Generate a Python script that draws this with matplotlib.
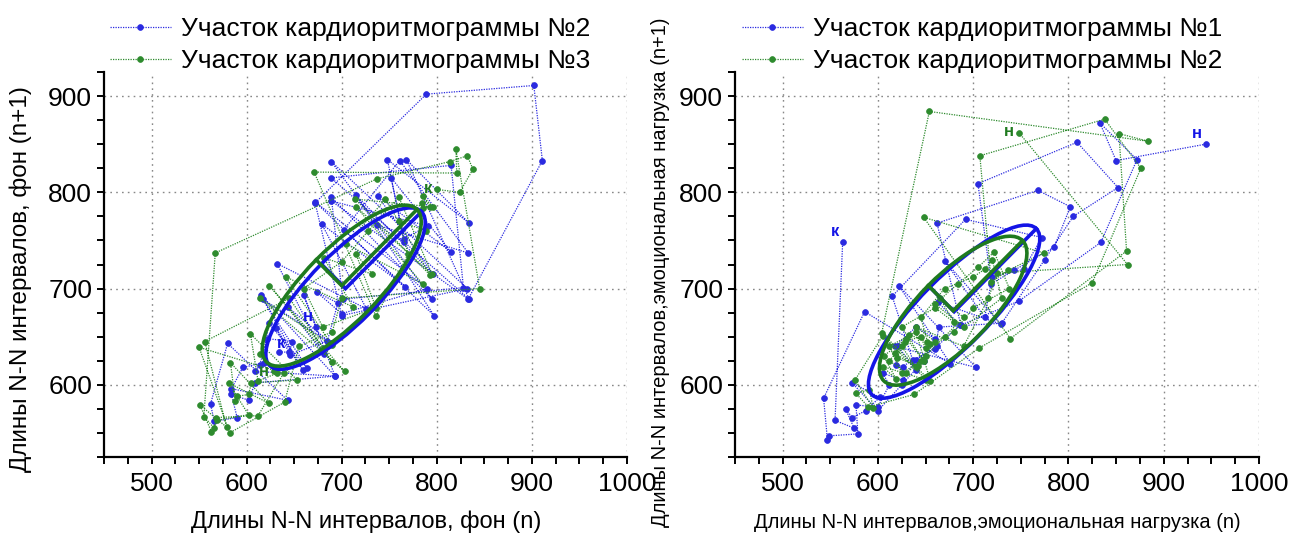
import numpy as np
import matplotlib
matplotlib.use("Agg")
import matplotlib.pyplot as plt
from matplotlib.patches import Ellipse
from matplotlib.ticker import MultipleLocator

plt.rcParams['font.family'] = ['Liberation Sans', 'DejaVu Sans']

# ---- data: successive N-N interval lengths (ms) ----
rr_bg2 = [673, 660, 693, 609, 602, 584, 590, 566, 562, 580, 643, 584, 596, 618, 623, 664,
          617, 689, 643, 681, 632, 726, 679, 767, 702, 761, 833, 737, 766, 748, 834, 768,
          834, 689, 815, 828, 701, 689, 795, 689, 832, 700, 672, 789, 902, 911, 833, 689,
          791, 765, 752, 815, 738, 796, 715, 797, 672, 790, 700, 674, 696, 685, 646, 631,
          659, 615, 693, 609, 614, 621, 648, 645, 634, 634]
rr_bg3 = [629, 614, 632, 612, 604, 653, 605, 602, 590, 588, 583, 623, 581, 602, 569, 563,
          551, 579, 556, 645, 690, 624, 703, 614, 690, 641, 712, 681, 732, 715, 736, 680,
          660, 700, 728, 760, 795, 715, 785, 705, 746, 793, 714, 793, 785, 796, 785, 784,
          789, 760, 770, 736, 671, 821, 820, 845, 700, 690, 655, 640, 582, 550, 639, 612,
          568, 566, 555, 567, 737, 814, 832, 838, 824, 800, 803]
rr_em1 = [944, 850, 833, 872, 834, 748, 687, 662, 768, 802, 785, 743, 719, 705, 809, 852,
          805, 775, 730, 664, 660, 637, 626, 619, 621, 640, 615, 692, 772, 753, 720, 712,
          670, 729, 663, 686, 662, 640, 626, 605, 612, 600, 577, 579, 549, 547, 543, 586,
          676, 622, 703, 618, 640, 660, 648, 625, 600, 573, 602, 587, 573, 566, 575, 555,
          563, 748]
rr_em2 = [748, 862, 725, 716, 690, 640, 660, 645, 625, 612, 640, 655, 604, 654, 884, 853,
          861, 739, 648, 774, 737, 719, 707, 838, 876, 825, 706, 638, 590, 577, 591, 595,
          576, 605, 651, 605, 619, 606, 630, 648, 625, 660, 680, 665, 690, 670, 650, 630,
          612, 625, 640, 618, 633, 652, 645, 670, 700, 712, 720, 730, 690, 660, 684, 705,
          722, 738, 700, 680, 655, 642, 620, 628, 645, 650, 638]

# ellipse parameters: centre x, centre y, SD1, SD2
ell_bg2 = (704, 700, 36, 113)
ell_bg3 = (700, 703, 38, 112)
ell_em1 = (680, 676, 36, 122)
ell_em2 = (679, 677, 37, 103)

legend_bg = ['Участок кардиоритмограммы №2', 'Участок кардиоритмограммы №3']
legend_em = ['Участок кардиоритмограммы №1', 'Участок кардиоритмограммы №2']
xlabel_bg = 'Длины N-N интервалов, фон (n)'
ylabel_bg = 'Длины N-N интервалов, фон (n+1)'
xlabel_em = 'Длины N-N интервалов,эмоциональная нагрузка (n)'
ylabel_em = 'Длины N-N интервалов,эмоциональная нагрузка (n+1)'
xticks = [500, 600, 700, 800, 900, 1000]
yticks = [600, 700, 800, 900]

BLUE_THIN = '#2a2ae0'
GREEN_THIN = '#2e8b2e'
BLUE = '#1414e6'
GREEN = '#1f7a1f'

W, H = 1292, 539
fig = plt.figure(figsize=(W / 100, H / 100), dpi=100)


def fx(px):
    return px / W


def fy(py):
    return 1 - py / H


def make_ax(left, right):
    ax = fig.add_axes([fx(left), fy(457), fx(right) - fx(left), fy(72) - fy(457)])
    ax.set_xlim(450, 1000)
    ax.set_ylim(525, 925)
    ax.spines['top'].set_visible(False)
    ax.spines['right'].set_visible(False)
    for s in ('left', 'bottom'):
        ax.spines[s].set_linewidth(1.6)
    ax.set_xticks(xticks)
    ax.set_yticks(yticks)
    ax.xaxis.set_minor_locator(MultipleLocator(25))
    ax.yaxis.set_minor_locator(MultipleLocator(25))
    ax.tick_params(which='both', direction='out', length=5, width=1.4, labelsize=19)
    ax.tick_params(axis='x', pad=6)
    ax.grid(True, which='major', linestyle=(0, (1.2, 3)), color='#888888', linewidth=1.0)
    ax.set_axisbelow(True)
    return ax


def draw_series(ax, rr, color, label):
    rr = np.asarray(rr)
    ax.plot(rr[:-1], rr[1:], linestyle=(0, (1, 1)), linewidth=0.9, color=color,
            marker='o', markersize=4.2, markeredgewidth=0.5, label=label, zorder=2)
    return rr


def draw_ellipse(ax, ell, color):
    cx, cy, sd1, sd2 = ell
    c = np.cos(np.pi / 4)
    ax.add_patch(Ellipse((cx, cy), 2 * sd2, 2 * sd1, angle=45, fill=False,
                         edgecolor=color, linewidth=2.6, zorder=4))
    ax.plot([cx - sd1 * c, cx, cx + sd2 * c], [cy + sd1 * c, cy, cy + sd2 * c],
            color=color, linewidth=2.6, zorder=4, solid_joinstyle='miter')


def mark(ax, rr, which, txt, color, dx, dy):
    rr = np.asarray(rr)
    if which == 'start':
        x, y = rr[0], rr[1]
    else:
        x, y = rr[-2], rr[-1]
    ax.annotate(txt, (x, y), xytext=(dx, dy), textcoords='offset pixels',
                ha='center', va='center', color=color, fontsize=12,
                fontweight='bold', zorder=5)


def add_legend(ax, left_px):
    ax.legend(loc='upper left', bbox_to_anchor=(fx(left_px), fy(17)),
              bbox_transform=fig.transFigure, frameon=False, fontsize=19,
              handlelength=2.3, handletextpad=0.4, labelspacing=0.3,
              borderaxespad=0, borderpad=0)


# ---- left panel ----
ax1 = make_ax(104, 627)
draw_series(ax1, rr_bg2, BLUE_THIN, legend_bg[0])
draw_series(ax1, rr_bg3, GREEN_THIN, legend_bg[1])
draw_ellipse(ax1, ell_bg2, BLUE)
draw_ellipse(ax1, ell_bg3, GREEN)
mark(ax1, rr_bg2, 'start', 'н', BLUE, -8, 11)
mark(ax1, rr_bg2, 'end', 'к', BLUE, 2, 9)
mark(ax1, rr_bg3, 'start', 'н', GREEN, -10, 0)
mark(ax1, rr_bg3, 'end', 'к', GREEN, -9, 1)
add_legend(ax1, 110)

fig.text(fx(366), fy(522), xlabel_bg, ha='center', va='center', fontsize=17)
fig.text(fx(21), fy(279), ylabel_bg, ha='center', va='center', fontsize=17.5,
         rotation=90)

# ---- right panel ----
ax2 = make_ax(735, 1259)
draw_series(ax2, rr_em1, BLUE_THIN, legend_em[0])
draw_series(ax2, rr_em2, GREEN_THIN, legend_em[1])
draw_ellipse(ax2, ell_em1, BLUE)
draw_ellipse(ax2, ell_em2, GREEN)
mark(ax2, rr_em1, 'start', 'н', BLUE, -9, 11)
mark(ax2, rr_em1, 'end', 'к', BLUE, -8, 11)
mark(ax2, rr_em2, 'start', 'н', GREEN, -10, 1)
add_legend(ax2, 742)

fig.text(fx(997), fy(522), xlabel_em, ha='center', va='center', fontsize=14.5)
fig.text(fx(661), fy(272), ylabel_em, ha='center', va='center', fontsize=14.5,
         rotation=90)

fig.savefig('out.png', dpi=100)
